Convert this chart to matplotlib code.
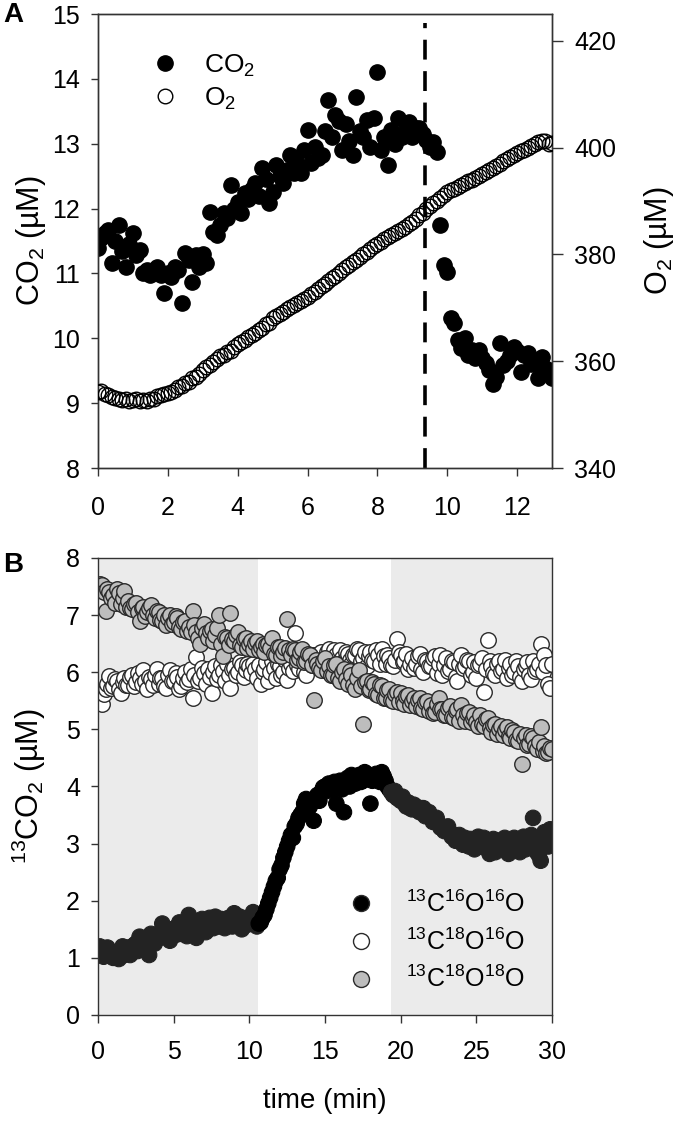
import numpy as np
import matplotlib
matplotlib.use("Agg")
import matplotlib.pyplot as plt

plt.rcParams['font.family'] = ['Liberation Sans', 'DejaVu Sans']
plt.rcParams['mathtext.fontset'] = 'custom'
plt.rcParams['mathtext.rm'] = 'Liberation Sans'
plt.rcParams['mathtext.it'] = 'Liberation Sans:italic'
plt.rcParams['mathtext.bf'] = 'Liberation Sans:bold'
plt.rcParams['mathtext.sf'] = 'Liberation Sans'

# ---- panel A data (time in min, CO2 in uM, O2 in uM) ----
time_a = [0.0, 0.1, 0.2, 0.3, 0.4, 0.5, 0.6, 0.7, 0.8, 0.9,
          1.0, 1.1, 1.2, 1.3, 1.4, 1.5, 1.6, 1.7, 1.8, 1.9,
          2.0, 2.1, 2.2, 2.3, 2.4, 2.5, 2.6, 2.7, 2.8, 2.9,
          3.0, 3.1, 3.2, 3.3, 3.4, 3.5, 3.6, 3.7, 3.8, 3.9,
          4.0, 4.1, 4.2, 4.3, 4.4, 4.5, 4.6, 4.7, 4.8, 4.9,
          5.0, 5.1, 5.2, 5.3, 5.4, 5.5, 5.6, 5.7, 5.8, 5.9,
          6.0, 6.1, 6.2, 6.3, 6.4, 6.5, 6.6, 6.7, 6.8, 6.9,
          7.0, 7.1, 7.2, 7.3, 7.4, 7.5, 7.6, 7.7, 7.8, 7.9,
          8.0, 8.1, 8.2, 8.3, 8.4, 8.5, 8.6, 8.7, 8.8, 8.9,
          9.0, 9.1, 9.2, 9.3, 9.4, 9.5, 9.6, 9.7, 9.8, 9.9,
          10.0, 10.1, 10.2, 10.3, 10.4, 10.5, 10.6, 10.7, 10.8, 10.9,
          11.0, 11.1, 11.2, 11.3, 11.4, 11.5, 11.6, 11.7, 11.8, 11.9,
          12.0, 12.1, 12.2, 12.3, 12.4, 12.5, 12.6, 12.7, 12.8, 12.9,
          13.0]

co2_a = [11.39, 11.55, 11.62, 11.67, 11.16, 11.50, 11.75, 11.35, 11.10, 11.45,
         11.62, 11.28, 11.36, 11.00, 11.05, 10.98, 11.05, 11.10, 10.98, 10.70,
         11.00, 10.95, 11.10, 11.05, 10.54, 11.31, 11.20, 10.87, 11.28, 11.10,
         11.30, 11.16, 11.95, 11.64, 11.60, 11.75, 11.93, 11.85, 12.36, 12.00,
         12.10, 11.93, 12.24, 12.15, 12.30, 12.40, 12.20, 12.62, 12.45, 12.09,
         12.26, 12.67, 12.50, 12.40, 12.60, 12.83, 12.55, 12.70, 12.55, 12.90,
         13.21, 12.70, 12.95, 12.78, 12.83, 13.20, 13.67, 13.10, 13.44, 13.35,
         12.90, 13.30, 13.05, 12.83, 13.72, 13.20, 13.10, 13.36, 12.95, 13.40,
         14.11, 12.90, 13.10, 12.67, 13.21, 13.00, 13.40, 13.10, 13.20, 13.33,
         13.10, 13.25, 13.24, 13.15, 13.06, 12.95, 13.03, 12.87, 11.75, 11.13,
         11.03, 10.31, 10.23, 9.97, 9.85, 10.00, 9.74, 9.82, 9.70, 9.82,
         9.70, 9.62, 9.51, 9.30, 9.40, 9.93, 9.59, 9.65, 9.75, 9.87,
         9.80, 9.48, 9.74, 9.77, 9.60, 9.62, 9.39, 9.71, 9.55, 9.51,
         9.39]

o2_a = [354.2, 354.5, 353.9, 353.6, 353.3, 353.1, 353.0, 352.8, 352.9, 352.6,
        352.7, 352.9, 352.5, 352.8, 352.6, 353.0, 352.9, 353.4, 353.6, 353.9,
        354.0, 354.3, 354.6, 355.2, 355.4, 355.9, 356.2, 356.8, 357.1, 357.6,
        358.3, 358.9, 359.2, 359.8, 360.4, 360.9, 361.2, 361.8, 361.9, 362.7,
        363.2, 363.6, 364.0, 364.5, 364.9, 365.3, 365.8, 366.3, 367.0, 367.2,
        368.0, 368.4, 368.9, 369.2, 369.7, 370.1, 370.5, 370.9, 371.3, 371.6,
        372.0, 372.5, 373.0, 373.5, 374.0, 374.5, 375.1, 375.6, 376.0, 376.6,
        377.0, 377.6, 378.0, 378.5, 379.0, 379.5, 380.0, 380.5, 381.0, 381.5,
        382.0, 382.4, 382.8, 383.2, 383.6, 384.0, 384.4, 384.8, 385.2, 385.6,
        386.0, 386.7, 387.3, 387.8, 388.5, 389.0, 389.6, 390.0, 390.6, 391.1,
        391.6, 392.0, 392.3, 392.7, 393.0, 393.3, 393.7, 394.0, 394.3, 394.7,
        395.0, 395.4, 395.8, 396.2, 396.6, 397.0, 397.4, 397.8, 398.2, 398.6,
        398.9, 399.3, 399.6, 399.9, 400.3, 400.6, 401.0, 401.3, 401.2, 400.6,
        400.9]

event_time = 9.37

# ---- panel B data (time in min, 13CO2 isotopologues in uM) ----
time_b = [0.0, 0.125, 0.25, 0.375, 0.5, 0.625, 0.75, 0.875,
          1.0, 1.125, 1.25, 1.375, 1.5, 1.625, 1.75, 1.875,
          2.0, 2.125, 2.25, 2.375, 2.5, 2.625, 2.75, 2.875,
          3.0, 3.125, 3.25, 3.375, 3.5, 3.625, 3.75, 3.875,
          4.0, 4.125, 4.25, 4.375, 4.5, 4.625, 4.75, 4.875,
          5.0, 5.125, 5.25, 5.375, 5.5, 5.625, 5.75, 5.875,
          6.0, 6.125, 6.25, 6.375, 6.5, 6.625, 6.75, 6.875,
          7.0, 7.125, 7.25, 7.375, 7.5, 7.625, 7.75, 7.875,
          8.0, 8.125, 8.25, 8.375, 8.5, 8.625, 8.75, 8.875,
          9.0, 9.125, 9.25, 9.375, 9.5, 9.625, 9.75, 9.875,
          10.0, 10.125, 10.25, 10.375, 10.5, 10.625, 10.75, 10.875,
          11.0, 11.125, 11.25, 11.375, 11.5, 11.625, 11.75, 11.875,
          12.0, 12.125, 12.25, 12.375, 12.5, 12.625, 12.75, 12.875,
          13.0, 13.125, 13.25, 13.375, 13.5, 13.625, 13.75, 13.875,
          14.0, 14.125, 14.25, 14.375, 14.5, 14.625, 14.75, 14.875,
          15.0, 15.125, 15.25, 15.375, 15.5, 15.625, 15.75, 15.875,
          16.0, 16.125, 16.25, 16.375, 16.5, 16.625, 16.75, 16.875,
          17.0, 17.125, 17.25, 17.375, 17.5, 17.625, 17.75, 17.875,
          18.0, 18.125, 18.25, 18.375, 18.5, 18.625, 18.75, 18.875,
          19.0, 19.125, 19.25, 19.375, 19.5, 19.625, 19.75, 19.875,
          20.0, 20.125, 20.25, 20.375, 20.5, 20.625, 20.75, 20.875,
          21.0, 21.125, 21.25, 21.375, 21.5, 21.625, 21.75, 21.875,
          22.0, 22.125, 22.25, 22.375, 22.5, 22.625, 22.75, 22.875,
          23.0, 23.125, 23.25, 23.375, 23.5, 23.625, 23.75, 23.875,
          24.0, 24.125, 24.25, 24.375, 24.5, 24.625, 24.75, 24.875,
          25.0, 25.125, 25.25, 25.375, 25.5, 25.625, 25.75, 25.875,
          26.0, 26.125, 26.25, 26.375, 26.5, 26.625, 26.75, 26.875,
          27.0, 27.125, 27.25, 27.375, 27.5, 27.625, 27.75, 27.875,
          28.0, 28.125, 28.25, 28.375, 28.5, 28.625, 28.75, 28.875,
          29.0, 29.125, 29.25, 29.375, 29.5, 29.625, 29.75, 29.875,
          30.0]

c16o16o = [1.15, 1.20, 1.08, 1.02, 1.12, 1.18, 1.05, 1.10,
           1.00, 1.08, 1.02, 0.98, 1.12, 1.20, 1.05, 1.15,
           1.18, 1.05, 1.10, 1.22, 1.25, 1.12, 1.37, 1.28,
           1.15, 1.22, 1.30, 1.05, 1.42, 1.35, 1.25, 1.32,
           1.38, 1.45, 1.60, 1.40, 1.45, 1.35, 1.30, 1.50,
           1.48, 1.40, 1.55, 1.62, 1.42, 1.48, 1.50, 1.38,
           1.75, 1.52, 1.60, 1.45, 1.35, 1.58, 1.55, 1.68,
           1.62, 1.45, 1.50, 1.70, 1.58, 1.52, 1.72, 1.60,
           1.55, 1.68, 1.65, 1.52, 1.58, 1.70, 1.62, 1.55,
           1.78, 1.65, 1.60, 1.72, 1.50, 1.62, 1.65, 1.58,
           1.70, 1.62, 1.80, 1.68, 1.55, 1.60, 1.62, 1.70,
           1.75, 1.85, 1.95, 2.05, 2.15, 2.25, 2.35, 2.40,
           2.55, 2.62, 2.75, 2.85, 2.95, 3.05, 3.15, 3.10,
           3.30, 3.35, 3.45, 3.50, 3.55, 3.70, 3.78, 3.60,
           3.65, 3.75, 3.40, 3.80, 3.85, 3.75, 3.90, 3.98,
           4.00, 3.92, 4.05, 3.98, 3.95, 4.08, 3.70, 4.02,
           4.10, 3.95, 3.55, 4.05, 4.15, 4.00, 4.20, 4.12,
           4.05, 4.18, 4.20, 4.08, 4.10, 4.25, 4.22, 4.15,
           3.70, 4.10, 4.15, 4.22, 4.20, 4.08, 4.25, 4.18,
           4.10, 4.00, 3.95, 3.90, 3.85, 3.92, 3.80, 3.78,
           3.75, 3.82, 3.70, 3.65, 3.72, 3.62, 3.60, 3.68,
           3.65, 3.58, 3.55, 3.62, 3.62, 3.48, 3.50, 3.55,
           3.45, 3.38, 3.40, 3.45, 3.35, 3.28, 3.30, 3.22,
           3.25, 3.30, 3.20, 3.12, 3.15, 3.05, 3.10, 3.15,
           3.05, 2.98, 3.10, 3.02, 2.95, 3.08, 3.00, 2.90,
           3.05, 3.12, 2.95, 3.02, 3.10, 2.98, 2.90, 2.82,
           3.00, 3.08, 2.85, 2.95, 3.05, 2.92, 2.95, 3.10,
           3.00, 2.82, 2.88, 3.02, 3.10, 2.90, 2.95, 2.85,
           3.05, 3.12, 2.90, 2.98, 3.00, 3.15, 3.45, 2.95,
           2.85, 2.80, 2.70, 3.00, 3.20, 3.05, 2.95, 3.25,
           3.00]

c18o16o = [5.56, 5.65, 5.45, 5.62, 5.70, 5.80, 5.94, 5.72,
           5.75, 5.88, 5.85, 5.70, 5.63, 5.82, 5.90, 5.78,
           5.78, 5.92, 5.95, 5.75, 5.82, 5.98, 5.90, 5.80,
           6.03, 5.85, 5.70, 5.92, 5.88, 5.78, 5.95, 6.05,
           5.80, 5.90, 5.90, 5.75, 5.72, 5.95, 6.03, 5.85,
           5.85, 5.98, 5.92, 5.70, 5.75, 5.90, 6.00, 5.82,
           5.88, 6.05, 5.54, 5.95, 6.26, 5.85, 5.90, 6.08,
           5.98, 5.80, 6.05, 5.92, 5.63, 6.00, 6.10, 5.88,
           5.95, 6.12, 6.02, 5.85, 6.15, 5.95, 5.72, 6.05,
           6.08, 5.95, 6.00, 6.18, 6.12, 5.92, 6.03, 6.15,
           6.10, 5.98, 6.15, 6.05, 5.90, 6.12, 5.80, 6.00,
           6.05, 6.18, 5.85, 6.00, 6.20, 6.08, 5.90, 6.15,
           6.10, 5.95, 6.00, 6.22, 5.86, 6.08, 6.15, 6.02,
           6.68, 6.12, 6.05, 6.25, 6.20, 6.00, 5.95, 6.18,
           6.25, 6.12, 6.30, 6.20, 6.10, 6.28, 6.35, 6.22,
           6.20, 6.35, 6.40, 6.28, 6.25, 6.38, 6.30, 6.15,
           6.38, 6.25, 6.20, 6.35, 6.32, 6.22, 6.15, 6.30,
           6.30, 6.40, 6.38, 6.20, 6.25, 6.35, 6.10, 6.28,
           6.35, 6.22, 6.20, 6.38, 6.30, 6.15, 6.40, 6.28,
           6.15, 6.30, 6.25, 6.12, 6.10, 6.22, 6.59, 6.35,
           6.30, 6.18, 6.20, 6.32, 6.05, 6.15, 6.25, 6.08,
           6.15, 6.28, 6.32, 6.05, 6.00, 6.22, 6.20, 6.10,
           6.10, 6.25, 6.28, 5.98, 6.15, 6.30, 5.95, 6.12,
           6.25, 6.02, 6.05, 6.20, 6.18, 5.92, 5.85, 6.15,
           6.30, 6.08, 6.10, 6.22, 6.20, 5.95, 6.00, 6.18,
           5.90, 6.12, 6.15, 6.25, 5.65, 6.05, 6.56, 6.20,
           6.10, 5.98, 5.95, 6.15, 6.20, 6.02, 6.05, 6.22,
           5.90, 6.08, 6.15, 5.95, 6.00, 6.20, 6.10, 5.92,
           5.85, 6.05, 6.10, 6.18, 5.95, 5.88, 6.20, 6.02,
           6.05, 6.15, 6.50, 6.00, 6.30, 6.12, 5.80, 5.72,
           6.15]

c18o18o = [7.48, 7.55, 7.52, 7.40, 7.08, 7.45, 7.40, 7.30,
           7.35, 7.22, 7.45, 7.38, 7.20, 7.30, 7.43, 7.15,
           7.25, 7.12, 7.10, 7.20, 7.22, 7.05, 6.90, 7.12,
           7.15, 6.98, 7.05, 7.12, 7.18, 7.00, 6.95, 7.08,
           7.05, 6.92, 6.90, 7.00, 6.82, 6.95, 7.00, 6.85,
           6.88, 6.98, 6.95, 6.80, 6.75, 6.88, 6.90, 6.72,
           6.80, 6.70, 7.08, 6.82, 6.70, 6.60, 6.50, 6.78,
           6.85, 6.68, 6.60, 6.72, 6.75, 6.55, 6.65, 6.78,
           7.00, 6.50, 6.29, 6.62, 6.60, 6.48, 7.03, 6.58,
           6.55, 6.65, 6.70, 6.48, 6.45, 6.58, 6.60, 6.42,
           6.50, 6.55, 6.40, 6.52, 6.55, 6.38, 6.45, 6.50,
           6.35, 6.48, 6.50, 6.42, 6.60, 6.32, 6.30, 6.45,
           6.45, 6.28, 6.35, 6.42, 6.94, 6.38, 6.30, 6.40,
           6.38, 6.22, 6.25, 6.35, 6.40, 6.18, 6.20, 6.32,
           6.30, 6.12, 5.51, 6.22, 6.15, 6.08, 6.03, 6.20,
           6.25, 6.02, 6.10, 5.95, 5.95, 6.12, 6.15, 5.90,
           5.85, 6.00, 6.05, 5.88, 5.80, 6.02, 5.95, 5.78,
           5.70, 5.90, 6.03, 5.75, 5.10, 5.82, 5.85, 5.68,
           5.70, 5.82, 5.80, 5.62, 5.60, 5.78, 5.75, 5.55,
           5.55, 5.68, 5.70, 5.52, 5.50, 5.62, 5.65, 5.48,
           5.63, 5.50, 5.45, 5.58, 5.60, 5.42, 5.50, 5.55,
           5.40, 5.52, 5.55, 5.38, 5.35, 5.48, 5.50, 5.32,
           5.42, 5.28, 5.30, 5.45, 5.55, 5.35, 5.35, 5.25,
           5.25, 5.38, 5.40, 5.22, 5.20, 5.32, 5.35, 5.15,
           5.42, 5.25, 5.15, 5.28, 5.30, 5.12, 5.20, 5.25,
           5.12, 5.05, 5.25, 5.10, 5.05, 5.18, 5.20, 5.02,
           4.95, 5.08, 5.10, 4.92, 5.00, 5.05, 4.90, 4.98,
           5.04, 4.88, 4.85, 4.98, 4.95, 4.82, 4.80, 4.92,
           4.40, 4.85, 4.90, 4.72, 4.75, 4.88, 4.85, 4.70,
           4.65, 4.78, 5.04, 4.62, 4.70, 4.58, 4.60, 4.68,
           4.65]

# shaded periods (light off) in panel B
shade_periods = [(0, 10.6), (19.35, 30)]

spine_col = '#333333'
fig = plt.figure(figsize=(6.81, 11.24), dpi=100)

# ================= panel A =================
ax = fig.add_axes([0.1439, 0.5836, 0.6667, 0.4039])
ax2 = ax.twinx()

h_co2, = ax.plot(time_a, co2_a, 'o', color='black', ms=11, mec='black',
                 ls='none', label='CO$_2$', zorder=3)
h_o2, = ax2.plot(time_a, o2_a, 'o', mfc='none', mec='black', ms=10.5, mew=1.0,
                 ls='none', label='O$_2$', zorder=3)
ax.axvline(event_time, ymin=0, ymax=0.98, color='black', lw=2.6,
           ls=(0, (5.5, 3.2)), zorder=2)

ax.set_xlim(0, 13)
ax.set_ylim(8, 15)
ax2.set_ylim(340, 425)
ax.set_xticks([0, 2, 4, 6, 8, 10, 12])
ax.set_yticks(range(8, 16))
ax2.set_yticks([340, 360, 380, 400, 420])

ax.tick_params(axis='y', direction='out', length=5, width=1, labelsize=18,
               pad=8, colors=spine_col, labelcolor='black')
ax.tick_params(axis='x', direction='out', length=6, width=1, labelsize=18,
               pad=14, colors=spine_col, labelcolor='black')
ax2.tick_params(axis='y', direction='out', length=8, width=1, labelsize=18,
                pad=8, colors=spine_col, labelcolor='black')
for a in (ax, ax2):
    for s in a.spines.values():
        s.set_color(spine_col)
        s.set_linewidth(1)

ax.set_ylabel('CO$_2$ (µM)', fontsize=22)
ax.yaxis.set_label_coords(-0.11, 0.5)
ax2.set_ylabel('O$_2$ (µM)', fontsize=22)
ax2.yaxis.set_label_coords(1.198, 0.5)

ax.legend(handles=[h_co2, h_o2], loc='upper left', bbox_to_anchor=(0.118, 0.915),
          frameon=False, fontsize=19, handlelength=1.0, handletextpad=1.0,
          labelspacing=0.25, borderpad=0, borderaxespad=0)

fig.text(0.005, 0.987, 'A', fontsize=20, fontweight='bold', va='center')

# ================= panel B =================
bx = fig.add_axes([0.1439, 0.0970, 0.6667, 0.4066])
for start, end in shade_periods:
    bx.axvspan(start, end, color='#ebebeb', lw=0, zorder=0)

tb = np.array(time_b)
in_shade = np.zeros(len(tb), dtype=bool)
for start, end in shade_periods:
    in_shade |= (tb >= start) & (tb <= end)
black_cols = np.where(in_shade, '#232323', '#000000')

bx.scatter(time_b, c16o16o, s=125, c=black_cols, edgecolors=black_cols,
           linewidths=0.8, zorder=2)
bx.scatter(time_b, c18o16o, s=125, c='white', edgecolors='#2a2a2a',
           linewidths=1.0, zorder=3)
bx.scatter(time_b, c18o18o, s=125, c='#bdbdbd', edgecolors='#2a2a2a',
           linewidths=1.0, zorder=4)

# legend proxies
lh = [bx.plot([], [], 'o', ms=11.5, mfc=fc, mec='#2a2a2a', mew=1.0, ls='none')[0]
      for fc in ('black', 'white', '#bdbdbd')]
bx.legend(lh, [r'$^{13}$C$^{16}$O$^{16}$O', r'$^{13}$C$^{18}$O$^{16}$O',
               r'$^{13}$C$^{18}$O$^{18}$O'],
          loc='upper left', bbox_to_anchor=(0.551, 0.272), frameon=False,
          fontsize=18, handlelength=1.0, handletextpad=1.3, labelspacing=0.45,
          borderpad=0, borderaxespad=0)

bx.set_xlim(0, 30)
bx.set_ylim(0, 8)
bx.set_xticks([0, 5, 10, 15, 20, 25, 30])
bx.set_yticks(range(0, 9))
bx.tick_params(axis='y', direction='out', length=5, width=1, labelsize=18,
               pad=8, colors=spine_col, labelcolor='black')
bx.tick_params(axis='x', direction='out', length=6, width=1, labelsize=18,
               pad=12, colors=spine_col, labelcolor='black')
for s in bx.spines.values():
    s.set_color(spine_col)
    s.set_linewidth(1)
    s.set_zorder(5)

bx.set_ylabel('$^{13}$CO$_2$ (µM)', fontsize=22)
bx.yaxis.set_label_coords(-0.11, 0.5)
bx.set_xlabel('time (min)', fontsize=20)
bx.xaxis.set_label_coords(0.5, -0.16)

fig.text(0.005, 0.497, 'B', fontsize=20, fontweight='bold', va='center')

fig.savefig('out.png', dpi=100)
